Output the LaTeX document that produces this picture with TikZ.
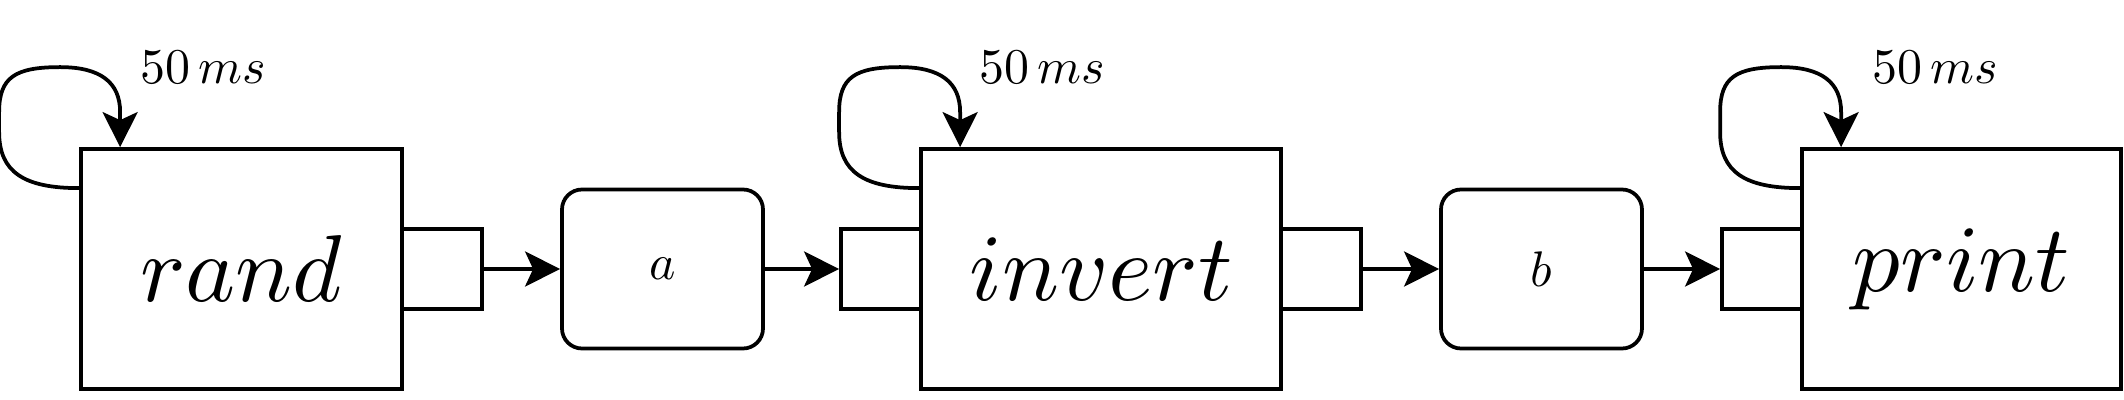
\documentclass[tikz,border=0pt]{standalone}
\usepackage{amsmath}
\usepackage{tikz}
\usetikzlibrary{arrows.meta}

\begin{document}
\begin{tikzpicture}[x=0.2pt, y=0.2pt,
  proc/.style={draw, line width=0.75pt, minimum height=48pt, inner sep=0pt},
  port/.style={draw, line width=0.75pt, minimum width=16pt, minimum height=16pt, inner sep=0pt},
  chan/.style={draw, line width=0.75pt, rounded corners=4pt, minimum width=40.2pt, minimum height=31.8pt, inner sep=0pt},
  flow/.style={line width=0.75pt, -{Stealth[length=7pt, width=7pt, inset=1.6pt]}}]
\useasboundingbox (0,0) rectangle (2124,400);

% Step 1: the three processes
\node[proc, minimum width=64.2pt] (rand) at (241.5,131) {\scalebox{1.9}{$rand$}};
\node[proc, minimum width=72pt] (invert) at (1101,131) {\scalebox{1.9}{$invert$}};
\node[proc, minimum width=63.8pt] (print) at (1961.5,131) {\scalebox{1.9}{$print$}};

% Step 2: ports on the processes
\node[port] (randout) at (442,131) {};
\node[port] (invertin) at (881,131) {};
\node[port] (invertout) at (1321,131) {};
\node[port] (printin) at (1762,131) {};

% Step 3: the channels
\node[chan] (a) at (662.5,131) {$a$};
\node[chan] (b) at (1541.5,131) {$b$};

% Step 4: data flow
\draw[flow] (randout.east) -- (a.west);
\draw[flow] (a.east) -- (invertin.west);
\draw[flow] (invertout.east) -- (b.west);
\draw[flow] (b.east) -- (printin.west);

% Step 5: timer loops with their periods
\foreach \p/\dx in {rand/24.8pt, invert/24.6pt, print/27pt} {
\draw[flow] ([yshift=-8.2pt]\p.north west)
    .. controls +(-11pt,0) and +(0,-8pt) .. ++(-16pt,11.2pt)
    -- ++(0,4pt)
    .. controls +(0,7pt) and +(-9pt,0) .. ++(12.2pt,9pt)
    .. controls +(8pt,0) and +(0,6pt) .. ++(12pt,-9pt)
    -- ++(0,-7pt);
\node (\p-period) at ([shift={(\dx,16pt)}]\p.north west) {$50\,ms$};
}
\end{tikzpicture}
\end{document}
